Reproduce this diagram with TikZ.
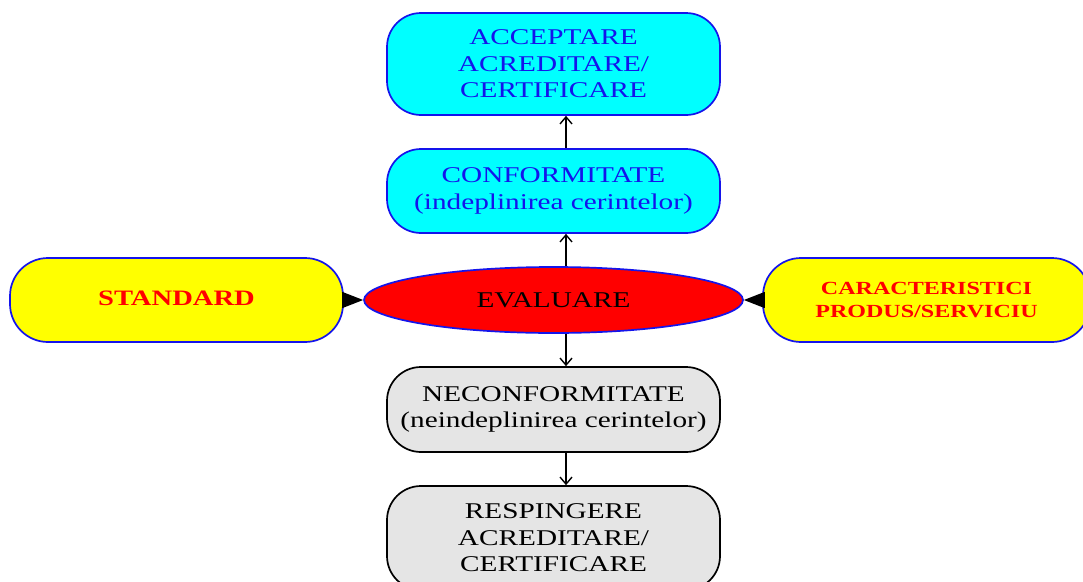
\documentclass[tikz,border=0pt]{standalone}
\usepackage{fontspec}
\setmainfont{Liberation Serif}
\newfontfamily\widefont[FakeStretch=1.3]{Liberation Serif}
\usetikzlibrary{arrows.meta,shapes.geometric}
\definecolor{boxblue}{RGB}{20,20,235}
\definecolor{boxcyan}{RGB}{0,255,255}
\definecolor{boxgray}{RGB}{229,229,229}
\definecolor{boxyellow}{RGB}{255,255,0}
\definecolor{boxred}{RGB}{255,0,0}
\begin{document}
\begin{tikzpicture}[x=1pt,y=-1pt,
  box/.style={rounded corners=34pt, line width=1.7pt, align=center,
    minimum width=333pt, minimum height=84pt, inner sep=0pt},
  okbox/.style={box, draw=boxblue, fill=boxcyan, text=boxblue,
    font=\widefont\fontsize{22.5}{26.5}\selectfont},
  nobox/.style={box, draw=black, fill=boxgray,
    font=\widefont\fontsize{22.5}{26.5}\selectfont},
  sidebox/.style={box, rounded corners=38pt, draw=boxblue, fill=boxyellow, text=boxred},
  flow/.style={draw=black, line width=1.4pt, -{Straight Barb[length=7pt,width=12pt]}},
  feed/.style={draw=black, line width=1.4pt, -{Triangle[length=21pt,width=16pt]}}
]
\useasboundingbox (0,0) rectangle (1083,581);

\node[okbox, minimum height=102pt] (accept) at (553.5,64)
  {ACCEPTARE\\ACREDITARE/\\CERTIFICARE};
\node[okbox] (conf) at (553.5,191)
  {CONFORMITATE\\(indeplinirea cerintelor)};
\node[ellipse, draw=boxblue, line width=1.7pt, fill=boxred,
  minimum width=379pt, minimum height=66pt, inner sep=0pt,
  font=\widefont\fontsize{22.5}{26.5}\selectfont] (eval) at (553.5,300) {EVALUARE};
\node[sidebox, font=\widefont\bfseries\fontsize{22}{26}\selectfont] (std) at (176.5,300)
  {\raisebox{4pt}{STANDARD}};
\node[sidebox, minimum width=327pt, font=\widefont\bfseries\fontsize{18.5}{23}\selectfont] (car) at (926.5,300)
  {CARACTERISTICI\\PRODUS/SERVICIU};
\node[nobox, minimum height=85pt] (neconf) at (553.5,409.5)
  {NECONFORMITATE\\(neindeplinirea cerintelor)};
\node[nobox, minimum height=104pt] (resp) at (553.5,538)
  {RESPINGERE\\ACREDITARE/\\CERTIFICARE};

\draw[flow] (eval.north -| 566,0) -- (conf.south -| 566,0);
\draw[flow] (conf.north -| 566,0) -- (accept.south -| 566,0);
\draw[flow] (eval.south -| 566,0) -- (neconf.north -| 566,0);
\draw[flow] (neconf.south -| 566,0) -- (resp.north -| 566,0);
\draw[feed] (std.east) -- (eval.west);
\draw[feed] (car.west) -- (eval.east);
\end{tikzpicture}
\end{document}
